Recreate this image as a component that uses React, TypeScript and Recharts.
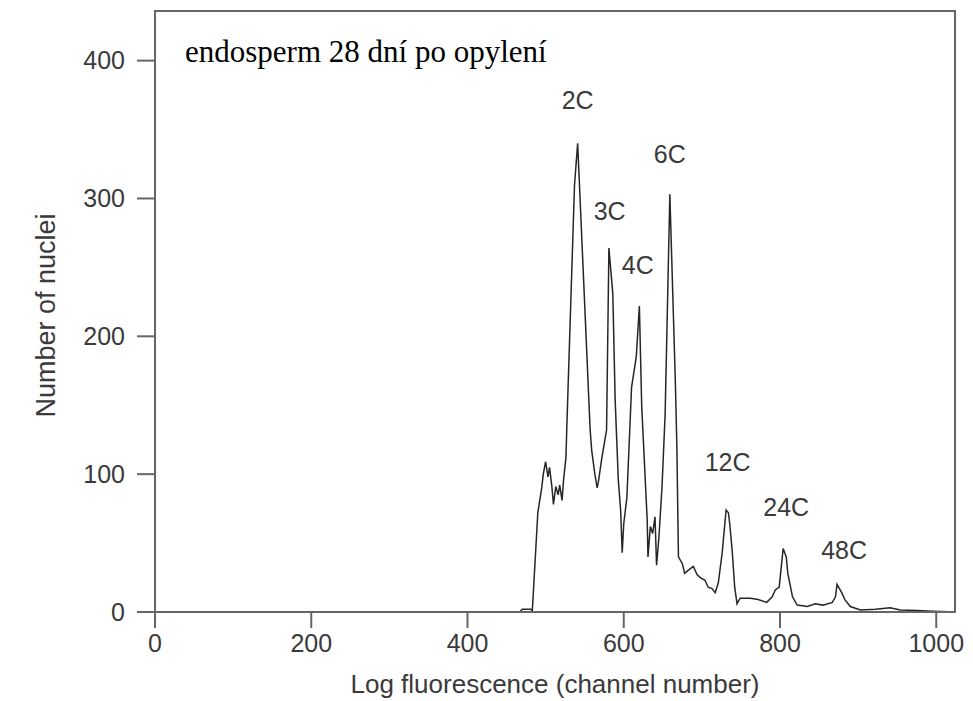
import { Line, LineChart, ReferenceArea, ReferenceDot, XAxis, YAxis } from "recharts";

// channel numbers and nuclei counts
const channels = [
  0, 467, 470, 481, 483, 490, 495, 497, 500, 503, 505, 508, 510, 513, 516, 518,
  521, 523, 526, 527, 537, 541, 557, 559, 563, 566, 568, 572, 575, 578, 581, 586,
  589, 593, 596, 598, 600, 604, 610, 616, 620, 623, 630, 631, 634, 637, 640, 642,
  645, 649, 653, 659, 666, 668, 670, 675, 678, 682, 689, 694, 698, 704, 708, 713,
  717, 721, 726, 731, 734, 736, 739, 742, 745, 749, 762, 772, 783, 790, 794, 799,
  804, 808, 810, 816, 822, 835, 845, 855, 867, 871, 873, 879, 883, 890, 903, 922,
  941, 954, 976, 996, 1024,
];
const counts = [
  0, 0, 2, 2, 1, 72, 90, 100, 109, 98, 105, 91, 78, 91, 85, 92,
  81, 96, 112, 132, 310, 340, 132, 117, 100, 90, 96, 112, 122, 132, 264, 231,
  154, 96, 74, 43, 64, 83, 163, 185, 222, 149, 67, 40, 62, 57, 69, 34,
  54, 91, 144, 303, 168, 120, 40, 35, 28, 30, 33, 27, 25, 23, 18, 17,
  14, 21, 43, 74, 72, 62, 43, 18, 6, 10, 10, 9, 7, 11, 16, 18,
  46, 40, 28, 11, 5, 4, 6, 5, 7, 11, 20, 14, 9, 4, 1.5, 2,
  3, 1.5, 1, 0.5, 0,
];

const peakNames = ["2C", "3C", "4C", "6C", "12C", "24C", "48C"];
const peakLabelX = [541, 582, 618, 659, 733, 808, 882];
const peakLabelY = [371, 291, 252, 332, 109, 76, 45];

const xTicks = [0, 200, 400, 600, 800, 1000];
const yTicks = [0, 100, 200, 300, 400];

const title = "endosperm 28 dní po opylení";

const data = channels.map((c, i) => ({ channel: c, nuclei: counts[i] }));

const sans = "'Liberation Sans', Arial, sans-serif";
const axisColor = "#666";
const textColor = "#3a3a3a";

export default function App() {
  return (
    <div style={{ position: "relative", width: 965, height: 693 }}>
      <LineChart
        width={965}
        height={693}
        data={data}
        margin={{ top: 3, right: 18, bottom: 0, left: 0 }}
      >
        <XAxis
          dataKey="channel"
          type="number"
          domain={[0, 1024]}
          allowDataOverflow
          ticks={xTicks}
          height={89}
          tickSize={16}
          tickMargin={6}
          stroke={axisColor}
          strokeWidth={2}
          tick={{ fill: textColor, fontSize: 25, fontFamily: sans }}
          label={{
            content: ({ viewBox }: any) => (
              <text
                x={viewBox.x + viewBox.width / 2}
                y={676}
                textAnchor="middle"
                dominantBaseline="central"
                fill={textColor}
                fontSize={26}
                fontFamily={sans}
              >
                Log fluorescence (channel number)
              </text>
            ),
          }}
        />
        <YAxis
          type="number"
          domain={[0, 436]}
          allowDataOverflow
          ticks={yTicks}
          width={147}
          tickSize={18}
          tickMargin={12}
          stroke={axisColor}
          strokeWidth={2}
          tick={{ fill: textColor, fontSize: 25, fontFamily: sans }}
          label={{
            content: ({ viewBox }: any) => {
              const cx = 38;
              const cy = viewBox.y + viewBox.height / 2 + 4;
              return (
                <text
                  x={cx}
                  y={cy}
                  transform={`rotate(-90 ${cx} ${cy})`}
                  textAnchor="middle"
                  dominantBaseline="central"
                  fill={textColor}
                  fontSize={27}
                  fontFamily={sans}
                >
                  Number of nuclei
                </text>
              );
            },
          }}
        />
        <ReferenceArea
          x1={0}
          x2={1024}
          y1={0}
          y2={436}
          fill="none"
          stroke={axisColor}
          strokeWidth={2}
        />
        <Line
          type="linear"
          dataKey="nuclei"
          stroke="#262626"
          strokeWidth={1.5}
          dot={false}
          isAnimationActive={false}
        />
        {peakNames.map((name, i) => (
          <ReferenceDot
            key={name}
            x={peakLabelX[i]}
            y={peakLabelY[i]}
            r={0}
            fill="none"
            stroke="none"
            label={{
              value: name,
              position: "center",
              fill: textColor,
              fontSize: 25,
              fontFamily: sans,
            }}
          />
        ))}
      </LineChart>
      <div
        style={{
          position: "absolute",
          left: 177,
          top: 28,
          fontFamily: "'Liberation Serif', 'Times New Roman', serif",
          fontSize: 31,
          lineHeight: 1,
          color: "#000",
          whiteSpace: "nowrap",
        }}
      >
        {title}
      </div>
    </div>
  );
}
